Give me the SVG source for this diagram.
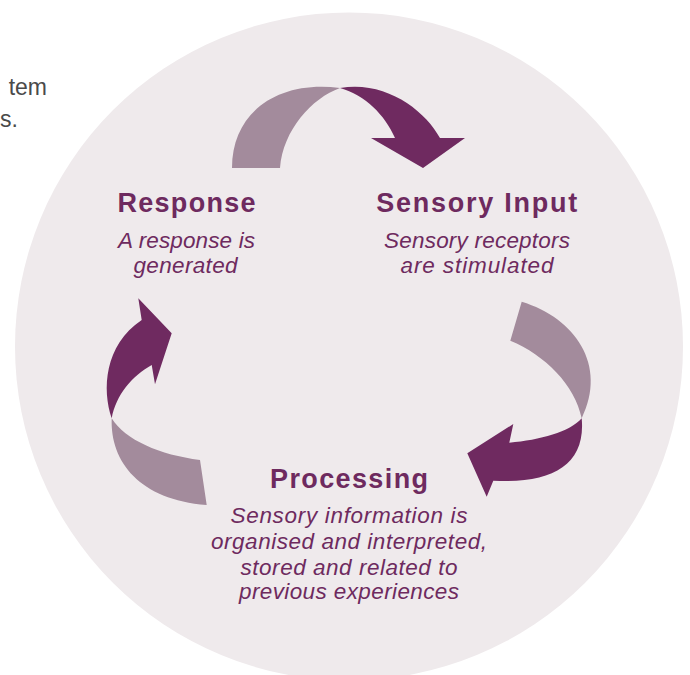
<svg xmlns="http://www.w3.org/2000/svg" width="690" height="675" viewBox="0 0 690 675">
<style>
.bg{fill:#EFEAEC}
.lt{fill:#A38B9C}
.dk{fill:#6F2A60}
.h{font-family:"Liberation Sans",Arial,sans-serif;font-weight:700;font-size:27px;fill:#6E2A5F;text-anchor:middle}
.d{font-family:"Liberation Sans",Arial,sans-serif;font-style:italic;font-size:22.5px;fill:#6E2A5F;text-anchor:middle}
.side{font-family:"Liberation Sans",Arial,sans-serif;font-size:23px;fill:#4A4A4A}
</style>
<rect width="690" height="675" fill="#FFFFFF"/>
<text class="side" x="47" y="95" text-anchor="end">tem</text>
<text class="side" x="0" y="127">s.</text>
<circle class="bg" cx="349" cy="346.5" r="334"/>
<g id="connectors">
  <g id="arrow-response-to-input">
    <path class="lt" d="M232,168 C232,112 278,80 340,88 C312,98 283,130 280,168 Z"/>
    <path class="dk" d="M340,88 C385,80 425,110 440,138 L465,138 L423,168 L371,138 L395,138 C385,115 365,95 340,88 Z"/>
  </g>
  <g id="arrow-input-to-processing">
    <path class="lt" d="M521.7,301.7 C575,318 608,365 581.7,418.3 C575,385 545,355 510.3,340.7 Z"/>
    <path class="dk" d="M581.7,418.3 C586,465 552,484 493.3,480.7 L486.7,496.7 L467.3,453.3 L513.3,424 L509.3,442.7 C540,440 570,432 581.7,418.3 Z"/>
  </g>
  <g id="arrow-processing-to-response">
    <path class="lt" d="M111.7,418.3 C110,462 140,500 206.7,505 L200,460 C160,455 125,440 111.7,418.3 Z"/>
    <path class="dk" d="M111.7,418.3 C102,390 104,345 141.7,320 L138.3,298.3 L171.7,333.3 L155,384.3 L151.7,365 C132,376 116,395 111.7,418.3 Z"/>
  </g>
</g>
<g id="node-response">
  <text class="h" x="186.5" y="211.5" textLength="138">Response</text>
  <text class="d" x="186.5" y="247.5" textLength="137">A response is</text>
  <text class="d" x="185.5" y="272.5" textLength="104">generated</text>
</g>
<g id="node-sensory-input">
  <text class="h" x="476.7" y="211.5" textLength="201">Sensory Input</text>
  <text class="d" x="477" y="247.5" textLength="186">Sensory receptors</text>
  <text class="d" x="477" y="272.5" textLength="153">are stimulated</text>
</g>
<g id="node-processing">
  <text class="h" x="349" y="488" textLength="158">Processing</text>
  <text class="d" x="349" y="522.5" textLength="237">Sensory information is</text>
  <text class="d" x="349" y="548.5" textLength="276">organised and interpreted,</text>
  <text class="d" x="349" y="574.5" textLength="217">stored and related to</text>
  <text class="d" x="349" y="599" textLength="220">previous experiences</text>
</g>
</svg>
